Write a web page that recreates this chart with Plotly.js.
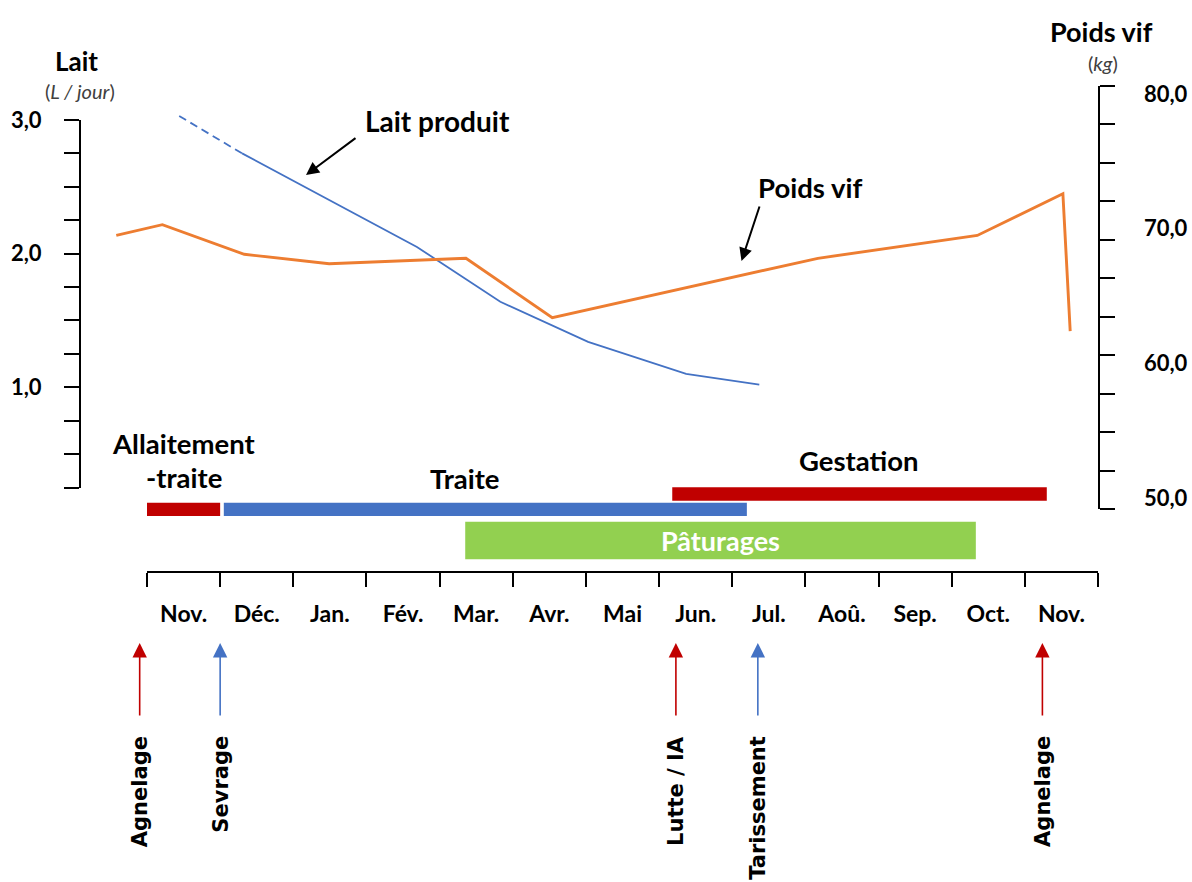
<!DOCTYPE html>
<html><head><meta charset="utf-8">
<script src="https://cdn.plot.ly/plotly-3.0.1.min.js"></script>
<style>html,body{margin:0;padding:0;background:#fff}#chart{width:1192px;height:882px}</style>
</head><body><div id="chart"></div>
<script>
// ---------------- DATA ----------------
const months = ['Nov.','Déc.','Jan.','Fév.','Mar.','Avr.','Mai','Jun.','Jul.','Aoû.','Sep.','Oct.','Nov.'];
// Lait produit (L / jour); position in months (0 = début novembre)
const laitMonth = [0.44, 1.30, 3.69, 4.83, 6.03, 7.37, 8.37];
const laitValue = [3.03, 2.75, 2.05, 1.64, 1.34, 1.10, 1.02];
// Poids vif (kg)
const poidsMonth = [-0.42, 0.21, 1.33, 2.49, 4.36, 5.54, 9.17, 11.35, 12.52, 12.62];
const poidsValue = [69.5, 70.3, 68.1, 67.4, 67.8, 63.4, 67.8, 69.5, 72.6, 62.4];
// Périodes
const periodLabels = ['Allaitement\n-traite', 'Traite', 'Gestation', 'Pâturages'];
const periodStart = [0.00, 1.05, 7.18, 4.35];
const periodEnd   = [1.00, 8.20, 12.30, 11.33];
// Événements
const eventLabels = ['Agnelage', 'Sevrage', 'Lutte / IA', 'Tarissement', 'Agnelage'];
const eventMonth  = [-0.10, 1.00, 7.23, 8.35, 12.24];
// Axis ticks
const laitTicks = [1, 2, 3];
const laitTickText = ['1,0', '2,0', '3,0'];
const poidsTicks = [50, 60, 70, 80];
const poidsTickText = ['50,0', '60,0', '70,0', '80,0'];

// ---------------- LAYOUT GEOMETRY ----------------
const W = 1192, H = 882;
const X0 = 147, MW = 73.154;          // px of month 0, px per month
const LY3 = 120, LU = 133.65;          // px of 3,0 L, px per L
const PY80 = 94, PK = 13.47;           // px of 80 kg, px per kg
const xd = px => (px - X0) / MW;
const yl = py => 3 - (py - LY3) / LU;
const yk = py => 80 - (py - PY80) / PK;
const fx = px => px / W;
const fy = py => 1 - py / H;

const RED = '#C00000', BLUE = '#4472C4', ORANGE = '#ED7D31', GREEN = '#92D050';
const F = 'Lato, "Open Sans", sans-serif';

// period bar rows (center px, height px) and colours
const periodRow = [509.4, 509.4, 494.0, 540.5];
const periodH   = [13.3, 13.3, 13.4, 37.6];
const periodCol = [RED, BLUE, RED, GREEN];
const periodLabelPos = [[184, 443], [465, 478], [859, 461], [720, 540]];
const eventCol = [RED, BLUE, RED, BLUE, RED];

const traces = [];
// period bars
traces.push({
  type: 'bar', orientation: 'h', xaxis: 'x', yaxis: 'y',
  base: periodStart,
  x: periodEnd.map((e, i) => e - periodStart[i]),
  y: periodRow.map(yl),
  width: periodH.map(h => h / LU),
  marker: {color: periodCol, line: {width: 0}},
  hoverinfo: 'skip', showlegend: false
});
// lait dashed start
traces.push({
  type: 'scatter', mode: 'lines', xaxis: 'x', yaxis: 'y',
  x: laitMonth.slice(0, 2), y: laitValue.slice(0, 2),
  line: {color: BLUE, width: 1.8, dash: '8px,5px'}, hoverinfo: 'skip', showlegend: false
});
// lait solid
traces.push({
  type: 'scatter', mode: 'lines', xaxis: 'x', yaxis: 'y',
  x: laitMonth.slice(1), y: laitValue.slice(1),
  line: {color: BLUE, width: 1.8}, hoverinfo: 'skip', showlegend: false
});
// poids vif
traces.push({
  type: 'scatter', mode: 'lines', xaxis: 'x', yaxis: 'y2',
  x: poidsMonth, y: poidsValue,
  line: {color: ORANGE, width: 2.9}, hoverinfo: 'skip', showlegend: false
});
// dummy traces to show display axes
traces.push({type: 'scatter', mode: 'lines', x: [null], y: [null], xaxis: 'x', yaxis: 'y3', hoverinfo: 'skip', showlegend: false});
traces.push({type: 'scatter', mode: 'lines', x: [null], y: [null], xaxis: 'x', yaxis: 'y4', hoverinfo: 'skip', showlegend: false});
traces.push({type: 'scatter', mode: 'lines', x: [null], y: [null], xaxis: 'x2', yaxis: 'y', hoverinfo: 'skip', showlegend: false});

const ann = [];
const txt = (text, px, py, size, opts) => Object.assign({
  text: text, xref: 'paper', yref: 'paper', x: fx(px), y: fy(py),
  xanchor: 'center', yanchor: 'middle', showarrow: false,
  font: {family: F, size: size, color: '#000', weight: 'bold'}
}, opts || {});

// axis titles
ann.push(txt('Lait', 76, 61, 26));
ann.push(txt('(<i>L / jour</i>)', 80, 91, 20, {font: {family: F, size: 20, color: '#404040'}}));
ann.push(txt('Poids vif', 1101, 31, 27));
ann.push(txt('(<i>kg</i>)', 1103, 63, 20, {font: {family: F, size: 20, color: '#404040'}}));
// series labels with arrows
ann.push(txt('Lait produit', 437, 121, 28));
ann.push(txt('Poids vif', 810, 188, 27.5));
const arrow = (x1, y1, x2, y2, col, w, size) => ({
  text: '', xref: 'paper', yref: 'paper', axref: 'paper', ayref: 'paper',
  x: fx(x2), y: fy(y2), ax: fx(x1), ay: fy(y1),
  showarrow: true, arrowhead: 2, arrowsize: size, arrowwidth: w, arrowcolor: col, standoff: 0, startstandoff: 0
});
ann.push(arrow(357, 137, 306, 175, '#000', 2, 1.3));
ann.push(arrow(760, 205, 741.5, 261, '#000', 2, 1.3));

// period labels
periodLabels.forEach((lab, i) => {
  const lines = lab.split('\n');
  const [px, py] = periodLabelPos[i];
  lines.forEach((ln, j) => {
    ann.push(txt(ln, px, py + j * 34, 27.5, i === 3 ? {font: {family: F, size: 27, color: '#fff', weight: 'bold'}} : {}));
  });
});

// event arrows and labels
eventLabels.forEach((lab, i) => {
  ann.push({
    text: '', xref: 'x', yref: 'y', axref: 'x', ayref: 'y',
    x: eventMonth[i], y: yl(643), ax: eventMonth[i], ay: yl(717),
    showarrow: true, arrowhead: 2, arrowsize: 1.8, arrowwidth: 1.6, arrowcolor: eventCol[i], standoff: 0
  });
  ann.push({
    text: lab, xref: 'x', yref: 'y', x: eventMonth[i], y: yl(734),
    xanchor: 'center', yanchor: 'top', textangle: -90, showarrow: false,
    font: {family: '"DejaVu Sans", sans-serif', size: 21, color: '#000', weight: 'bold'}
  });
});

const tickFont = {family: F, size: 22, color: '#000', weight: 'bold'};

const layout = {
  width: W, height: H,
  margin: {l: 0, r: 0, t: 0, b: 0, pad: 0},
  paper_bgcolor: '#fff', plot_bgcolor: 'rgba(0,0,0,0)',
  showlegend: false,
  xaxis: {domain: [0, 1], range: [xd(0), xd(W)], visible: false, anchor: 'y', fixedrange: true},
  yaxis: {domain: [0, 1], range: [yl(H), yl(0)], visible: false, anchor: 'x', fixedrange: true},
  yaxis2: {overlaying: 'y', range: [yk(H), yk(0)], visible: false, anchor: 'x', fixedrange: true},
  // visible Lait axis
  yaxis3: {
    domain: [fy(LY3 + 2.75 * LU), fy(LY3)], range: [0.25, 3], anchor: 'free', position: fx(80), side: 'left',
    showline: true, linecolor: '#000', linewidth: 2, showgrid: false, zeroline: false,
    tickmode: 'array', tickvals: laitTicks, ticktext: laitTickText,
    ticks: 'outside', ticklen: 15, tickwidth: 2, tickcolor: '#000', ticklabelstandoff: 18,
    minor: {ticks: 'outside', tick0: 0.25, dtick: 0.25, ticklen: 15, tickwidth: 2, tickcolor: '#000', showgrid: false},
    tickfont: tickFont, fixedrange: true
  },
  // visible Poids vif axis
  yaxis4: {
    domain: [fy(509.3), fy(85.7)], range: [yk(509.3), yk(85.7)], anchor: 'free', position: fx(1098.5), side: 'right',
    showline: true, linecolor: '#000', linewidth: 2, showgrid: false, zeroline: false,
    tickmode: 'array', tickvals: poidsTicks, ticktext: poidsTickText,
    ticks: '', ticklabelstandoff: 40,
    minor: {ticks: 'outside', tick0: yk(509.3), dtick: (yk(85.7) - yk(509.3)) / 11, ticklen: 15, tickwidth: 2, tickcolor: '#000', showgrid: false},
    tickfont: tickFont, fixedrange: true
  },
  // month axis
  xaxis2: {
    domain: [fx(X0), fx(X0 + 13 * MW)], range: [0, 13], anchor: 'free', position: fy(572),
    showline: true, linecolor: '#000', linewidth: 2, showgrid: false, zeroline: false,
    tickmode: 'array', tickvals: months.map((m, i) => i + 0.5), ticktext: months,
    ticks: '', ticklabelstandoff: 21,
    minor: {ticks: 'outside', tick0: 0, dtick: 1, ticklen: 14, tickwidth: 2, tickcolor: '#000', showgrid: false},
    tickfont: {family: F, size: 23, color: '#000', weight: 'bold'}, fixedrange: true
  },
  annotations: ann
};

Plotly.newPlot('chart', traces, layout, {staticPlot: true, displayModeBar: false});
</script>
</body></html>
